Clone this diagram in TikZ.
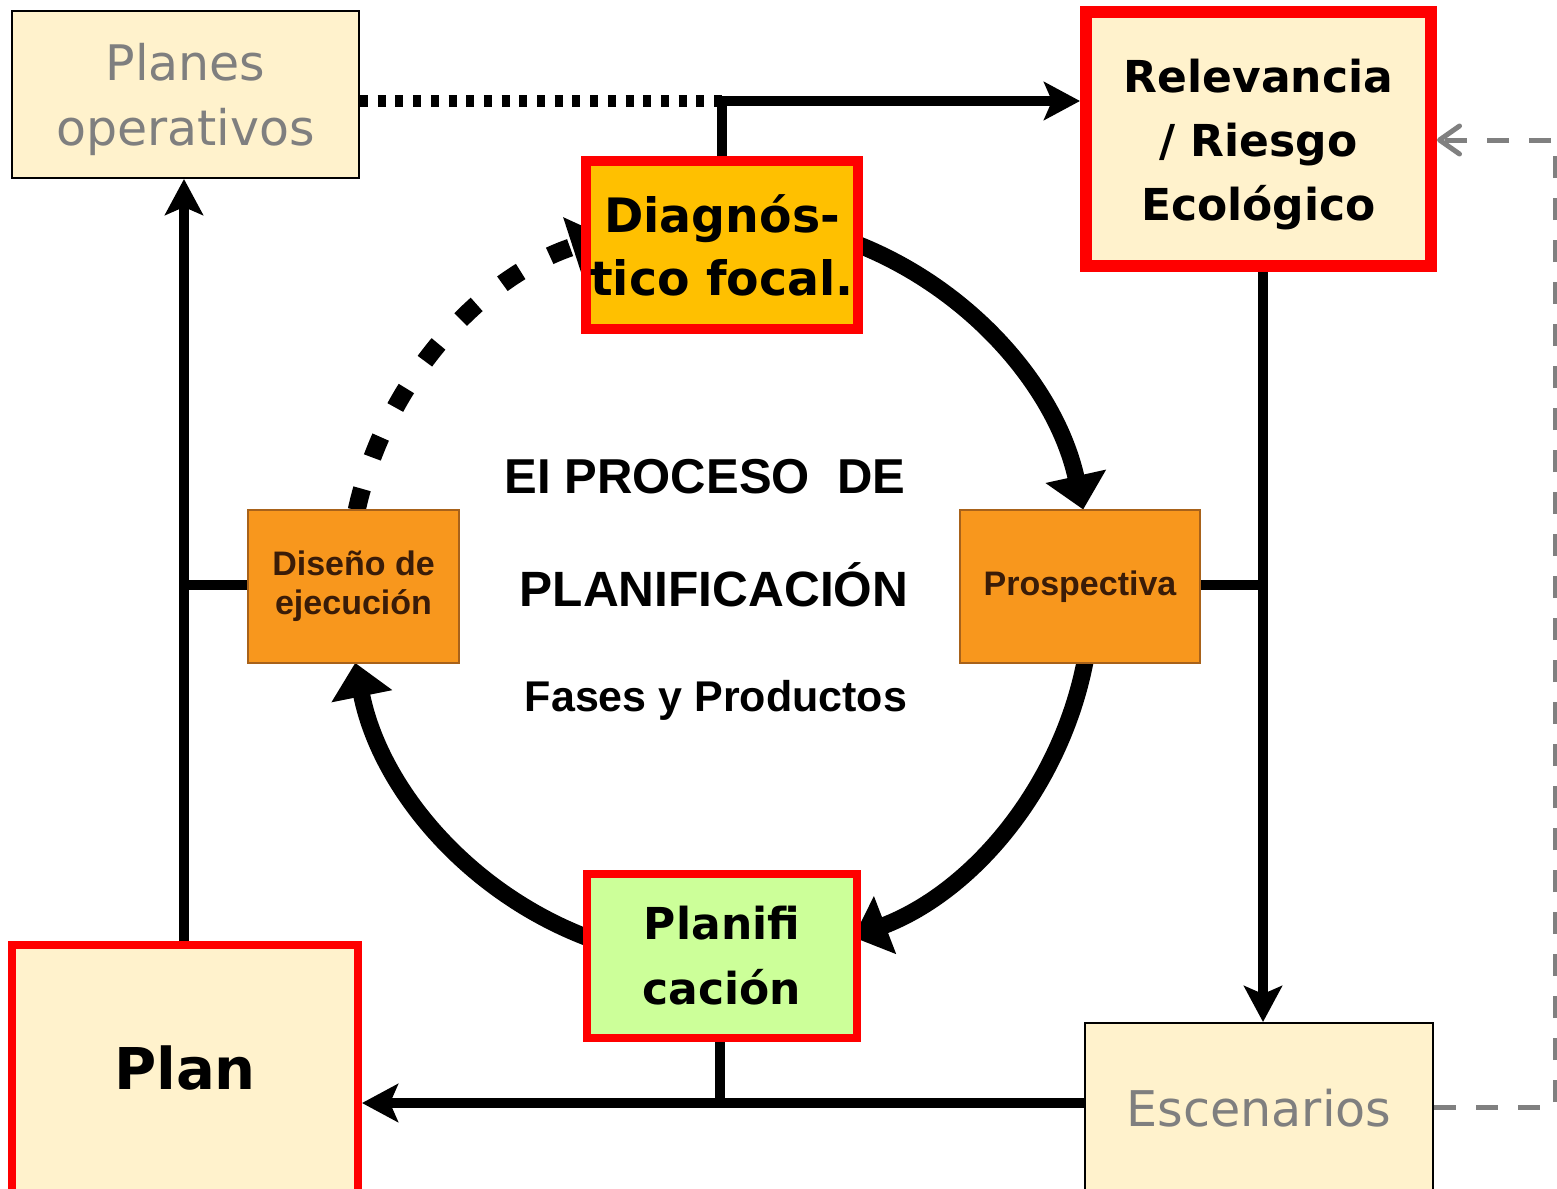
\documentclass[tikz,border=0pt]{standalone}
\usepackage{fontspec}
\setmainfont{DejaVu Sans}
\newfontfamily\arialf{Liberation Sans}
\usetikzlibrary{arrows.meta}
\definecolor{cream}{HTML}{FFF2CC}
\definecolor{gold}{HTML}{FFC000}
\definecolor{orng}{HTML}{F8971D}
\definecolor{orngline}{HTML}{A8621A}
\definecolor{lgreen}{HTML}{CCFF99}
\definecolor{txtgray}{HTML}{7F7F7F}
\definecolor{dashgray}{HTML}{808080}
\definecolor{brwn}{HTML}{3A1C08}
\begin{document}
\begin{tikzpicture}[x=0.5pt,y=-0.5pt,
  box/.style={draw, rectangle, inner sep=0pt, outer sep=auto, align=center, text=black},
  thinbox/.style={box, draw=black, line width=1pt, fill=cream, text=txtgray},
  redbox/.style={box, draw=red},
  phasebox/.style={box, draw=orngline, line width=1pt, fill=orng, text=brwn,
    minimum height=76.5pt, font=\arialf\bfseries\fontsize{17}{19.5}\selectfont},
  conn/.style={line width=5pt, draw=black},
  contip/.style={-{Stealth[length=18pt,width=19pt,inset=4pt]}},
  arcline/.style={line width=8.5pt, draw=black},
  arctip/.style={-{Triangle[length=17pt,width=30pt]}},
  dotline/.style={line width=6pt, dash pattern=on 4pt off 4.85pt},
  dotarc/.style={line width=9pt, dash pattern=on 11pt off 16.5pt},
  gdash/.style={line width=2.5pt, draw=dashgray, dash pattern=on 11pt off 10pt},
  gtip/.style={-{Straight Barb[length=10pt,width=14pt,line cap=round,line join=round]}},
  title/.style={font=\arialf\bfseries, text=black, inner sep=0pt}
]
\useasboundingbox[fill=white] (0,0) rectangle (1557,1188);

% cycle arcs (drawn first, under the boxes)
\draw[arcline, arctip] ([shift={(720,590)}]-70:372) arc[start angle=-70, end angle=-12.5, radius=372];
\draw[arcline, arctip] ([shift={(720,590)}]10:372) arc[start angle=10, end angle=69, radius=372];
\draw[arcline, arctip] ([shift={(720,590)}]110:372) arc[start angle=110, end angle=168.7, radius=372];
\draw[dotarc, arctip] ([shift={(720,590)}]192.4:372) arc[start angle=192.4, end angle=252, radius=372];

% nodes
\node[thinbox, minimum width=173.5pt, minimum height=83.5pt,
  font=\fontsize{24.5}{32.5}\selectfont] (planes) at (185.5,94.5) {\rule{0pt}{24pt}Planes\\operativos};
\node[redbox, line width=6pt, fill=cream, minimum width=172.5pt, minimum height=127pt,
  font=\bfseries\fontsize{22}{32}\selectfont] (relev) at (1258.5,139) {\rule{0pt}{22.5pt}Relevancia\\/ Riesgo\\Ecológico};
\node[redbox, line width=5pt, fill=gold, minimum width=136pt, minimum height=84pt,
  font=\bfseries\fontsize{23.7}{31.5}\selectfont] (diag) at (722,245) {Diagnós-\\tico focal.};
\node[phasebox, minimum width=105.5pt] (diseno) at (353.5,586.5) {Diseño de\\ejecución};
\node[phasebox, minimum width=120pt] (prosp) at (1080,586.5) {Prospectiva};
\node[redbox, line width=4pt, fill=lgreen, minimum width=135pt, minimum height=82pt,
  font=\bfseries\fontsize{22}{32.5}\selectfont] (planif) at (722,956) {Planifi\\cación};
\node[redbox, line width=4pt, fill=cream, minimum width=173pt, minimum height=127.5pt,
  font=\bfseries\fontsize{28.8}{36}\selectfont] (plan) at (185,1072.5) {Plan\rule[-5pt]{0pt}{5pt}};
\node[thinbox, minimum width=174pt, minimum height=88.5pt,
  font=\fontsize{24.6}{30}\selectfont] (escen) at (1259,1111.5) {Escenarios\rule[-4pt]{0pt}{4pt}};

% central title
\node[title, font=\arialf\bfseries\fontsize{24.5}{28}\selectfont] (t1) at (705,477) {EI PROCESO\ \ DE};
\node[title, font=\arialf\bfseries\fontsize{24.8}{28}\selectfont] (t2) at (714,585) {PLANIFICACIÓN};
\node[title, font=\arialf\bfseries\fontsize{21.5}{26}\selectfont] (t3) at (716,700) {Fases y Productos};

% junctions
\coordinate (j1) at (722,101);
\coordinate (j2) at (1263,585);
\coordinate (j3) at (720,1103);
\coordinate (j4) at (184,585);
\coordinate (g1) at (1555,1107);
\coordinate (g2) at (1555,140);

% connectors
\draw[dotline] (planes.east |- j1) -- (j1);
\draw[conn, contip] (j1) -- (relev.west |- j1);
\draw[conn] (diag.north -| j1) -- (j1);

\draw[conn, contip] (j2 |- relev.south) -- (j2 |- escen.north);
\draw[conn] (prosp.east |- j2) -- (j2);

\draw[conn, contip] (escen.west |- j3) -- (plan.east |- j3);
\draw[conn] (planif.south -| j3) -- (j3);

\draw[conn, contip] (j4 |- plan.north) -- (j4 |- planes.south);
\draw[conn] (diseno.west |- j4) -- (j4);

\draw[gdash, gtip] (escen.east |- g1) -- (g1) -- (g2) -- (relev.east |- g2);
\end{tikzpicture}
\end{document}
